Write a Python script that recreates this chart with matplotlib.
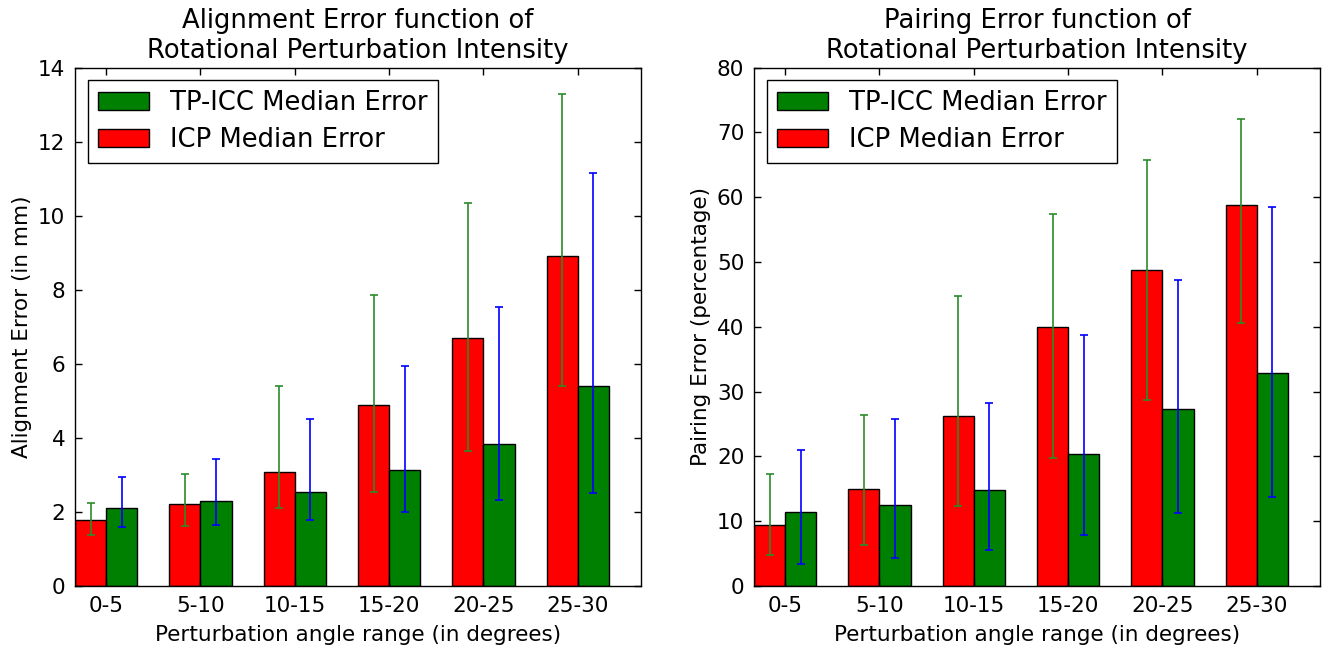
import matplotlib
matplotlib.use("Agg")
import matplotlib.pyplot as plt
import numpy as np

categories = ["0-5", "5-10", "10-15", "15-20", "20-25", "25-30"]

# Alignment error (mm)
align_icp = [1.79, 2.21, 3.09, 4.90, 6.69, 8.91]
align_icp_low = [1.38, 1.62, 2.10, 2.54, 3.65, 5.40]
align_icp_high = [2.25, 3.02, 5.39, 7.86, 10.33, 13.28]
align_tp = [2.11, 2.29, 2.54, 3.12, 3.83, 5.39]
align_tp_low = [1.58, 1.65, 1.79, 2.00, 2.31, 2.50]
align_tp_high = [2.95, 3.44, 4.51, 5.94, 7.52, 11.15]

# Pairing error (percentage)
pair_icp = [9.46, 15.04, 26.25, 40.0, 48.83, 58.77]
pair_icp_low = [4.73, 6.32, 12.27, 19.82, 28.64, 40.59]
pair_icp_high = [17.27, 26.46, 44.79, 57.39, 65.73, 72.10]
pair_tp = [11.48, 12.49, 14.82, 20.30, 27.26, 32.84]
pair_tp_low = [3.45, 4.30, 5.53, 7.86, 11.32, 13.66]
pair_tp_high = [21.04, 25.82, 28.27, 38.79, 47.24, 58.40]

plt.rcParams['font.family'] = ['DejaVu Sans']

fig = plt.figure(figsize=(13.24, 6.51), dpi=100)
ax1 = fig.add_axes([75/1324, 1-586/651, 566/1324, 518.5/651])
ax2 = fig.add_axes([754/1324, 1-586/651, 566/1324, 518.5/651])

w = 0.33
ind = np.arange(len(categories))


def draw(ax, icp, icp_lo, icp_hi, tp, tp_lo, tp_hi, ymax, ystep, title, ylabel):
    icp = np.array(icp); tp = np.array(tp)
    icp_err = [icp - np.array(icp_lo), np.array(icp_hi) - icp]
    tp_err = [tp - np.array(tp_lo), np.array(tp_hi) - tp]
    b_icp = ax.bar(ind + w/2, icp, w, color='#ff0000', edgecolor='black', linewidth=1.0, label='ICP Median Error')
    b_tp = ax.bar(ind + 1.5*w, tp, w, color='#008000', edgecolor='black', linewidth=1.0, label='TP-ICC Median Error')
    ax.errorbar(ind + w/2, icp, yerr=icp_err, fmt='none', ecolor='#2a8c2a', elinewidth=1.2, capsize=3, capthick=1.2)
    ax.errorbar(ind + 1.5*w, tp, yerr=tp_err, fmt='none', ecolor='#0000ff', elinewidth=1.2, capsize=3, capthick=1.2)
    ax.set_xlim(0, 6)
    ax.set_ylim(0, ymax)
    ax.set_yticks(np.arange(0, ymax + 0.01, ystep))
    ax.set_xticks(ind + w)
    ax.set_xticklabels(categories)
    ax.tick_params(direction='in', top=True, right=True, length=5, width=1, labelsize=15.5, pad=7)
    for s in ax.spines.values():
        s.set_linewidth(1.0)
    ax.set_title(title, fontsize=18.6, pad=7)
    ax.set_xlabel('Perturbation angle range (in degrees)', fontsize=15.5, labelpad=7)
    ax.set_ylabel(ylabel, fontsize=15.5)
    leg = ax.legend([b_tp, b_icp], ['TP-ICC Median Error', 'ICP Median Error'], loc='upper left',
                    fontsize=18.6, fancybox=False, framealpha=1, edgecolor='black',
                    handlelength=2.0, handleheight=0.7, borderaxespad=0.5,
                    labelspacing=0.42, borderpad=0.38)
    leg.get_frame().set_linewidth(1.0)


draw(ax1, align_icp, align_icp_low, align_icp_high, align_tp, align_tp_low, align_tp_high,
     14, 2, 'Alignment Error function of\nRotational Perturbation Intensity', 'Alignment Error (in mm)')
draw(ax2, pair_icp, pair_icp_low, pair_icp_high, pair_tp, pair_tp_low, pair_tp_high,
     80, 10, 'Pairing Error function of\nRotational Perturbation Intensity', 'Pairing Error (percentage)')

fig.savefig('out.png', dpi=100)
